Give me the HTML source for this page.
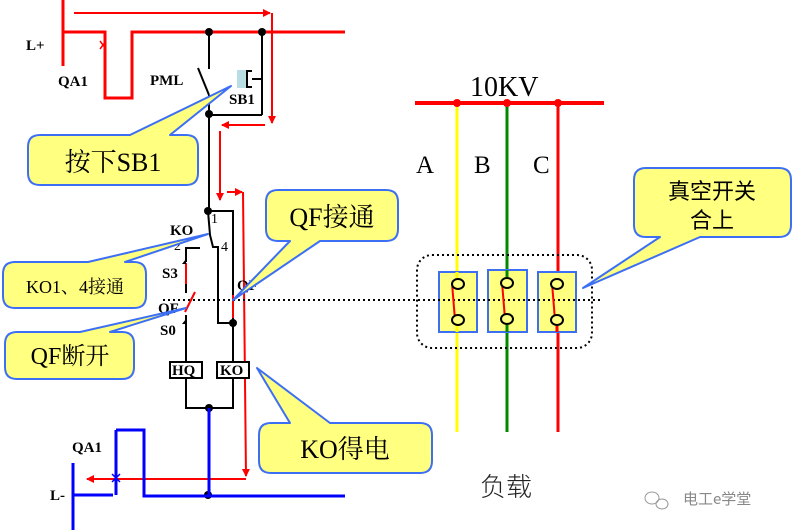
<!DOCTYPE html>
<html><head><meta charset="utf-8"><style>body{margin:0;background:#fff}svg{display:block}</style></head><body>
<svg width="794" height="532" viewBox="0 0 794 532" xmlns="http://www.w3.org/2000/svg" font-family="'Liberation Serif','Noto Serif CJK SC',serif">
<defs>
<marker id="ar" markerWidth="8" markerHeight="8" refX="7" refY="4" orient="auto" markerUnits="userSpaceOnUse"><path d="M0,0 L8,4 L0,8 Z" fill="#f00"/></marker>
</defs>
<g stroke="#f00" stroke-width="3" fill="none">
<line x1="63" y1="0" x2="63" y2="66"/>
<polyline points="63,32 105,32 105,98 132,98 132,32 345,32"/>
</g>
<g stroke="#f00" stroke-width="1.5"><line x1="100" y1="41" x2="106" y2="49"/><line x1="106" y1="41" x2="100" y2="49"/></g>
<g stroke="#f00" stroke-width="2" fill="none">
<line x1="74" y1="13" x2="270" y2="13" marker-end="url(#ar)"/>
<line x1="272" y1="13" x2="272" y2="123" marker-end="url(#ar)"/>
<line x1="265" y1="125" x2="222" y2="125" marker-end="url(#ar)"/>
<line x1="220" y1="131" x2="220" y2="200" marker-end="url(#ar)"/>
<line x1="227" y1="192" x2="242" y2="192" marker-end="url(#ar)"/>
<line x1="243" y1="192" x2="246" y2="476" marker-end="url(#ar)"/>
<line x1="246" y1="479" x2="87" y2="479" marker-end="url(#ar)"/>
</g>
<g stroke="#000" stroke-width="2" fill="none">
<line x1="209" y1="32" x2="209" y2="69"/>
<line x1="198" y1="68" x2="209" y2="95"/>
<line x1="209" y1="95" x2="209" y2="211"/>
<line x1="262" y1="32" x2="262" y2="115"/>
<line x1="209" y1="115" x2="262" y2="115"/>
<line x1="252" y1="79" x2="262" y2="79"/>
<polyline points="252,71 247,71 247,87 252,87"/>
<polyline points="208,211 233,211 233,323"/>
<polyline points="208,211 210,235 213,247 218,247 218,323 233,323"/>
<polyline points="200,248 186,248 186,262"/>
<line x1="186" y1="284" x2="186" y2="293"/>
<line x1="186" y1="315" x2="186" y2="362"/>
<line x1="233" y1="323" x2="233" y2="362"/>
<polyline points="186,378 186,408 233,408 233,378"/>
</g>
<rect x="237" y="70" width="9" height="18" fill="#b8dde2"/>
<g stroke="#f00" stroke-width="2">
<line x1="186" y1="263" x2="186" y2="284"/>
<line x1="195" y1="292" x2="185" y2="312"/>
<line x1="233" y1="295" x2="233" y2="318"/>
</g>
<path d="M182,264 L186,259 L186,264Z M182,324 L186,319 L186,324Z" fill="#000"/>
<g fill="#000">
<circle cx="209" cy="32" r="4"/><circle cx="262" cy="32" r="4"/>
<circle cx="209" cy="114" r="4"/><circle cx="208" cy="211" r="4"/>
<circle cx="233" cy="323" r="4"/><circle cx="209" cy="408" r="4"/>
<circle cx="208" cy="495" r="4"/>
</g>
<g fill="#fff" stroke="#000" stroke-width="2">
<rect x="170" y="362" width="32" height="16"/><rect x="217" y="362" width="32" height="16"/>
</g>
<g stroke="#00f" stroke-width="3" fill="none">
<line x1="209" y1="408" x2="209" y2="495"/>
<line x1="73" y1="463" x2="73" y2="530"/>
<line x1="73" y1="495" x2="113" y2="495"/>
<line x1="116" y1="430" x2="116" y2="495"/>
<polyline points="116,430 144,430 144,496 345,496"/>
</g>
<g stroke="#00f" stroke-width="1.5"><line x1="112" y1="474" x2="120" y2="482"/><line x1="120" y1="474" x2="112" y2="482"/></g>
<g font-weight="bold" font-size="15" fill="#000">
<text x="26" y="50">L+</text><text x="58" y="86">QA1</text><text x="150" y="85">PML</text>
<text x="229" y="104">SB1</text><text x="170" y="235">KO</text>
<text x="162" y="278">S3</text><text x="158" y="313">QF</text><text x="160" y="335">S0</text>
<text x="237" y="290">QF</text>
<text x="172" y="375">HQ</text><text x="220" y="375">KO</text>
<text x="72" y="452">QA1</text><text x="50" y="500">L-</text>
</g>
<g font-size="14" fill="#000"><text x="211" y="223">1</text><text x="174" y="250">2</text><text x="221" y="251">4</text></g>
<line x1="415" y1="103" x2="604" y2="103" stroke="#f00" stroke-width="4"/>
<line x1="457" y1="103" x2="457" y2="432" stroke="#ff0" stroke-width="3"/>
<line x1="507" y1="103" x2="507" y2="432" stroke="#080" stroke-width="3"/>
<line x1="558" y1="103" x2="558" y2="432" stroke="#f00" stroke-width="3"/>
<g fill="#f00"><circle cx="457" cy="103" r="4"/><circle cx="507" cy="103" r="4"/><circle cx="558" cy="103" r="4"/></g>
<text x="470" y="96" font-size="28">10KV</text>
<text x="416" y="173" font-size="25">A</text><text x="474" y="173" font-size="25">B</text><text x="533" y="173" font-size="25">C</text>
<rect x="417" y="255" width="175" height="93" rx="15" fill="none" stroke="#000" stroke-width="2" stroke-dasharray="2,3"/>
<g fill="#ffff80" stroke="#3d6ff5" stroke-width="2">
<rect x="439" y="272" width="38" height="60"/><rect x="488" y="270" width="39" height="62"/><rect x="538" y="272" width="38" height="60"/>
</g>
<line x1="457" y1="272" x2="457" y2="278" stroke="#ff0" stroke-width="3"/>
<line x1="507" y1="270" x2="507" y2="277" stroke="#080" stroke-width="3"/>
<line x1="457" y1="326" x2="457" y2="332" stroke="#ff0" stroke-width="3"/>
<line x1="507" y1="325" x2="507" y2="332" stroke="#080" stroke-width="3"/>
<line x1="557" y1="326" x2="557" y2="332" stroke="#f00" stroke-width="3"/>
<line x1="163" y1="300" x2="600" y2="300" stroke="#000" stroke-width="2" stroke-dasharray="2,3"/>
<g stroke="#f00" stroke-width="2"><line x1="452" y1="283" x2="455" y2="320"/><line x1="502" y1="282" x2="505" y2="319"/><line x1="552" y1="283" x2="555" y2="320"/></g>
<g fill="#ffff80" stroke="#000" stroke-width="2">
<ellipse cx="458" cy="284" rx="6" ry="5"/><ellipse cx="458" cy="320" rx="6" ry="5"/>
<ellipse cx="507" cy="283" rx="6" ry="5"/><ellipse cx="507" cy="319" rx="6" ry="5"/>
<ellipse cx="557" cy="284" rx="6" ry="5"/><ellipse cx="557" cy="320" rx="6" ry="5"/>
</g>
<text x="480" y="496" font-size="26" fill="#222" font-family="'Noto Sans CJK SC',sans-serif" font-weight="300">负载</text>
<g fill="none" stroke="#999" stroke-width="1"><ellipse cx="652" cy="498" rx="7" ry="6"/><ellipse cx="662" cy="504" rx="6" ry="5"/></g>
<text x="683" y="504" font-size="15" fill="#888" font-family="'Noto Sans CJK SC',sans-serif">电工e学堂</text>
<g fill="#ffff80" stroke="#3d6ff5" stroke-width="2" stroke-linejoin="round">
<path d="M40,135 H130 L231,86 L170,135 H186 Q198,135 198,147 V173 Q198,185 186,185 H40 Q28,185 28,173 V147 Q28,135 40,135Z"/>
<path d="M278,190 H386 Q398,190 398,202 V229 Q398,241 386,241 H320 L233,300 L290,241 H278 Q266,241 266,229 V202 Q266,190 278,190Z"/>
<path d="M15,262 H88 L208,234 L125,262 H134 Q146,262 146,274 V296 Q146,308 134,308 H15 Q3,308 3,296 V274 Q3,262 15,262Z"/>
<path d="M17,332 H80 L186,308 L110,332 H122 Q134,332 134,344 V367 Q134,379 122,379 H17 Q5,379 5,367 V344 Q5,332 17,332Z"/>
<path d="M271,423 H290 L257,368 L330,423 H420 Q432,423 432,435 V461 Q432,473 420,473 H271 Q259,473 259,461 V435 Q259,423 271,423Z"/>
<path d="M646,168 H779 Q791,168 791,180 V225 Q791,237 779,237 H700 L583,288 L660,237 H646 Q634,237 634,225 V180 Q634,168 646,168Z"/>
</g>
<g fill="#000">
<text x="113" y="171" font-size="26" text-anchor="middle">按下SB1</text>
<text x="332" y="226" font-size="26" text-anchor="middle">QF接通</text>
<text x="75" y="293" font-size="18" text-anchor="middle">KO1、4接通</text>
<text x="70" y="364" font-size="24" text-anchor="middle">QF断开</text>
<text x="345" y="458" font-size="26" text-anchor="middle">KO得电</text>
<text x="712" y="199" font-size="22" text-anchor="middle" font-family="'Noto Sans CJK SC',sans-serif">真空开关</text>
<text x="712" y="228" font-size="22" text-anchor="middle" font-family="'Noto Sans CJK SC',sans-serif">合上</text>
</g>
</svg>
</body></html>
